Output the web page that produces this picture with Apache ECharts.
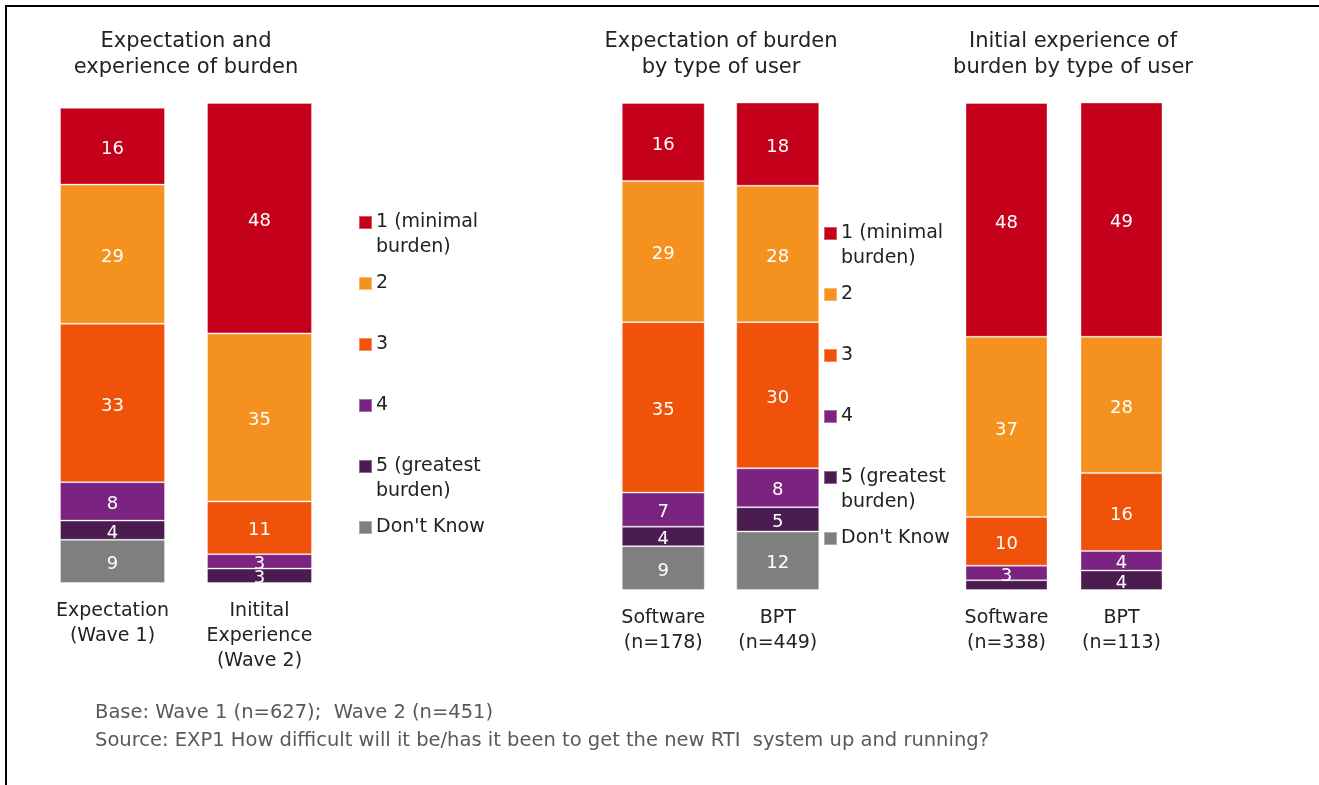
<!DOCTYPE html>
<html>
<head>
<meta charset="utf-8">
<script src="https://cdn.jsdelivr.net/npm/echarts@6/dist/echarts.min.js"></script>
<style>
html,body{margin:0;padding:0;background:#fff;}
#chart{width:1319px;height:785px;}
</style>
</head>
<body>
<div id="chart"></div>
<script>
// ---- data ----
const levels = ['1 (minimal burden)', '2', '3', '4', '5 (greatest burden)', "Don't Know"];
const legendLabels = ['1 (minimal\nburden)', '2', '3', '4', '5 (greatest\nburden)', "Don't Know"];
const colors = ['#C5001A', '#F5921F', '#EF5208', '#7B2380', '#4B1C50', '#7F7F7F'];

const panel1Title = 'Expectation and\nexperience of burden';
const panel1Categories = ['Expectation\n(Wave 1)', 'Initital\nExperience\n(Wave 2)'];
const panel1Values = [[16, 48], [29, 35], [33, 11], [8, 3], [4, 3], [9, null]];

const panel2Title = 'Expectation of burden\nby type of user';
const panel2Categories = ['Software\n(n=178)', 'BPT\n(n=449)'];
const panel2Values = [[16, 18], [29, 28], [35, 30], [7, 8], [4, 5], [9, 12]];

const panel3Title = 'Initial experience of\nburden by type of user';
const panel3Categories = ['Software\n(n=338)', 'BPT\n(n=113)'];
const panel3Values = [[48, 49], [37, 28], [10, 16], [3, 4], [2, 4], [null, null]];

const footnotes = ['Base: Wave 1 (n=627);  Wave 2 (n=451)',
  'Source: EXP1 How difficult will it be/has it been to get the new RTI  system up and running?'];

// ---- chart ----
const FONT = '"DejaVu Sans", Verdana, sans-serif';
const panels = [
  {cats: panel1Categories, vals: panel1Values, grid: {left: 39, width: 294, top: 103, height: 480}, barWidth: 105},
  {cats: panel2Categories, vals: panel2Values, grid: {left: 606, width: 229, top: 103, height: 487}, barWidth: 83},
  {cats: panel3Categories, vals: panel3Values, grid: {left: 949, width: 230, top: 103, height: 487}, barWidth: 82}
];

const grids = [], xAxes = [], yAxes = [], series = [];
panels.forEach((p, pi) => {
  grids.push(p.grid);
  xAxes.push({
    type: 'category', gridIndex: pi, data: p.cats,
    axisLine: {show: false}, axisTick: {show: false},
    axisLabel: {fontFamily: FONT, fontSize: 19, color: '#222', lineHeight: 25, margin: 16, interval: 0}
  });
  yAxes.push({type: 'value', gridIndex: pi, min: 0, max: 100, show: false, splitLine: {show: false}});
  for (let li = levels.length - 1; li >= 0; li--) {
    series.push({
      type: 'bar', name: levels[li], xAxisIndex: pi, yAxisIndex: pi, stack: 'p' + pi,
      barWidth: p.barWidth, data: p.vals[li], clip: true,
      itemStyle: {color: colors[li], borderColor: 'rgba(255,255,255,0.35)', borderWidth: 1},
      label: {
        show: true, position: 'inside', offset: [0, 3], color: '#fff', fontFamily: FONT, fontSize: 18,
        formatter: (d) => (d.value != null && d.value >= 3) ? String(d.value) : ''
      },
      emphasis: {disabled: true}
    });
  }
});

function legendFmt(name) {
  const t = legendLabels[levels.indexOf(name)];
  return t.indexOf('\n') >= 0 ? '\n' + t : '\n' + t + '\n';
}
function makeLegend(left, top) {
  return {
    data: levels, orient: 'vertical', left: left, top: top, padding: 0,
    itemWidth: 13, itemHeight: 13, itemGap: -14, icon: 'rect',
    selectedMode: false, formatter: legendFmt,
    textStyle: {fontFamily: FONT, fontSize: 19, color: '#222', lineHeight: 25, padding: [0, 0, 0, -1]}
  };
}

const titleStyle = {fontFamily: FONT, fontSize: 21, fill: '#222', textAlign: 'center', lineHeight: 26};
const footStyle = {fontFamily: FONT, fontSize: 19.5, fill: '#595959'};
const option = {
  animation: false,
  backgroundColor: '#fff',
  grid: grids, xAxis: xAxes, yAxis: yAxes, series: series,
  legend: [makeLegend(358, 185), makeLegend(823, 196)],
  graphic: [
    {type: 'rect', shape: {x: 5, y: 5, width: 1314, height: 2}, style: {fill: '#000'}},
    {type: 'rect', shape: {x: 5, y: 5, width: 2, height: 780}, style: {fill: '#000'}},
    {type: 'text', x: 186, y: 29, style: Object.assign({text: panel1Title}, titleStyle)},
    {type: 'text', x: 721, y: 29, style: Object.assign({text: panel2Title}, titleStyle)},
    {type: 'text', x: 1073, y: 29, style: Object.assign({text: panel3Title}, titleStyle)},
    {type: 'text', x: 95, y: 703, style: Object.assign({text: footnotes[0]}, footStyle)},
    {type: 'text', x: 95, y: 731, style: Object.assign({text: footnotes[1]}, footStyle)}
  ]
};

const chart = echarts.init(document.getElementById('chart'), null, {renderer: 'canvas'});
chart.setOption(option);
</script>
</body>
</html>
